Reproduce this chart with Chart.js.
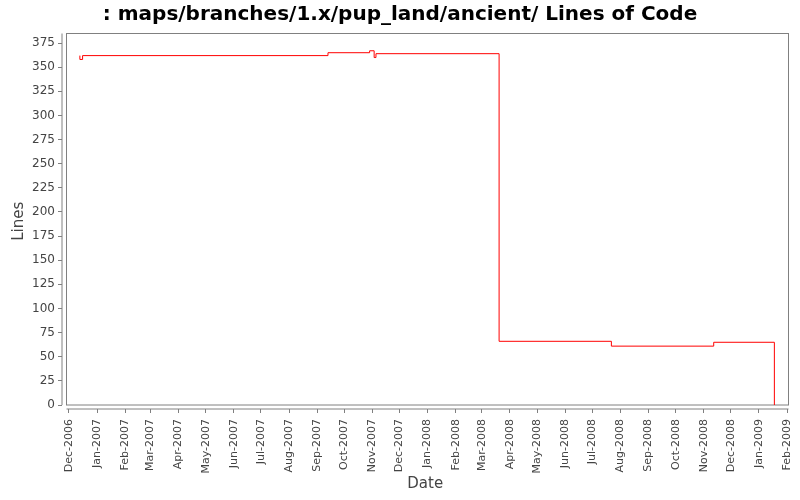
<!DOCTYPE html>
<html>
<head>
<meta charset="utf-8">
<script src="https://cdn.jsdelivr.net/npm/chart.js@4/dist/chart.umd.min.js"></script>
<style>
  html, body { margin: 0; padding: 0; background: #fff; }
  canvas { display: block; }
</style>
</head>
<body>
<canvas id="loc_chart" width="800" height="500"></canvas>
<script>
const commitDates = [
  '2006-12-13', '2006-12-13', '2006-12-16', '2007-09-13', '2007-10-29',
  '2007-11-03', '2007-11-05', '2008-03-20', '2008-07-22', '2008-11-12',
  '2009-01-18'
];
const lineCounts = [362, 358, 362, 365, 367, 360, 364, 66, 61, 65, 0];

const monthLabels = [
  'Dec-2006', 'Jan-2007', 'Feb-2007', 'Mar-2007', 'Apr-2007', 'May-2007',
  'Jun-2007', 'Jul-2007', 'Aug-2007', 'Sep-2007', 'Oct-2007', 'Nov-2007',
  'Dec-2007', 'Jan-2008', 'Feb-2008', 'Mar-2008', 'Apr-2008', 'May-2008',
  'Jun-2008', 'Jul-2008', 'Aug-2008', 'Sep-2008', 'Oct-2008', 'Nov-2008',
  'Dec-2008', 'Jan-2009', 'Feb-2009'
];
const yTicks = [0, 25, 50, 75, 100, 125, 150, 175, 200, 225, 250, 275,
  300, 325, 350, 375];

const MONTHS = ['Jan', 'Feb', 'Mar', 'Apr', 'May', 'Jun', 'Jul', 'Aug',
  'Sep', 'Oct', 'Nov', 'Dec'];
const DAY = 86400000;
const ORIGIN = Date.UTC(2006, 11, 1);

// days since Dec 1 2006
function dayOf(iso) {
  const [y, m, d] = iso.split('-').map(Number);
  return (Date.UTC(y, m - 1, d) - ORIGIN) / DAY;
}
function dayOfLabel(lbl) {
  const [mon, year] = lbl.split('-');
  return (Date.UTC(Number(year), MONTHS.indexOf(mon), 1) - ORIGIN) / DAY;
}

const GRAY = '#808080';
const TEXT = '#444444';

// JFreeChart-like plot outline with axes offset a few pixels
const plotFrame = {
  id: 'plotFrame',
  beforeDatasetsDraw(chart) {
    const { ctx, chartArea: a } = chart;
    const inL = a.left + 4.5, inB = a.bottom - 4;
    ctx.save();
    ctx.strokeStyle = GRAY;
    ctx.lineWidth = 1;
    ctx.strokeRect(inL, a.top, a.right - inL, inB - a.top);
    ctx.beginPath();
    ctx.moveTo(a.left, a.top);
    ctx.lineTo(a.left, inB);
    ctx.moveTo(inL, a.bottom);
    ctx.lineTo(a.right, a.bottom);
    ctx.stroke();
    ctx.restore();
  }
};

const canvas = document.getElementById('loc_chart');

new Chart(canvas, {
  type: 'line',
  data: {
    datasets: [{
      label: 'Lines',
      data: commitDates.map((d, i) => ({ x: dayOf(d), y: lineCounts[i] })),
      borderColor: 'rgb(255, 0, 0)',
      borderWidth: 1,
      stepped: 'before',
      pointRadius: 0,
      fill: false
    }]
  },
  options: {
    responsive: false,
    animation: false,
    layout: { padding: 0 },
    plugins: {
      legend: { display: false },
      tooltip: { enabled: false },
      title: {
        display: true,
        text: ': maps/branches/1.x/pup_land/ancient/ Lines of Code',
        color: '#000',
        font: { family: 'DejaVu Sans', size: 20, weight: 'bold' },
        padding: { top: 3, bottom: 6.5 }
      }
    },
    scales: {
      x: {
        type: 'linear',
        min: -7.73,
        max: 794.6,
        border: { display: false },
        grid: { drawOnChartArea: false, drawTicks: true, tickLength: 4, color: GRAY },
        afterBuildTicks(scale) {
          scale.ticks = monthLabels.map(l => ({ value: dayOfLabel(l) }));
        },
        afterFit(scale) {
          scale.height = 91;
          scale.paddingLeft = 0;
          scale.paddingRight = 11.5;
        },
        ticks: {
          autoSkip: false,
          maxRotation: 90,
          minRotation: 90,
          padding: 6,
          color: TEXT,
          font: { family: 'DejaVu Sans', size: 11 },
          callback: (v, i) => monthLabels[i]
        },
        title: {
          display: true,
          text: 'Date',
          color: TEXT,
          font: { family: 'DejaVu Sans', size: 15 },
          padding: { top: 0, bottom: 7 }
        }
      },
      y: {
        min: -4.14,
        max: 384.9,
        border: { display: false },
        grid: { drawOnChartArea: false, drawTicks: true, tickLength: 4, color: GRAY },
        afterBuildTicks(scale) {
          scale.ticks = yTicks.map(v => ({ value: v }));
        },
        afterFit(scale) {
          scale.width = 62;
          scale.paddingTop = 0;
          scale.paddingBottom = 0;
        },
        ticks: {
          padding: 3,
          color: TEXT,
          font: { family: 'DejaVu Sans', size: 12 },
          callback: (v) => String(v)
        },
        title: {
          display: true,
          text: 'Lines',
          color: TEXT,
          font: { family: 'DejaVu Sans', size: 15 },
          padding: { top: 10, bottom: 0 }
        }
      }
    }
  },
  plugins: [plotFrame]
});
</script>
</body>
</html>
